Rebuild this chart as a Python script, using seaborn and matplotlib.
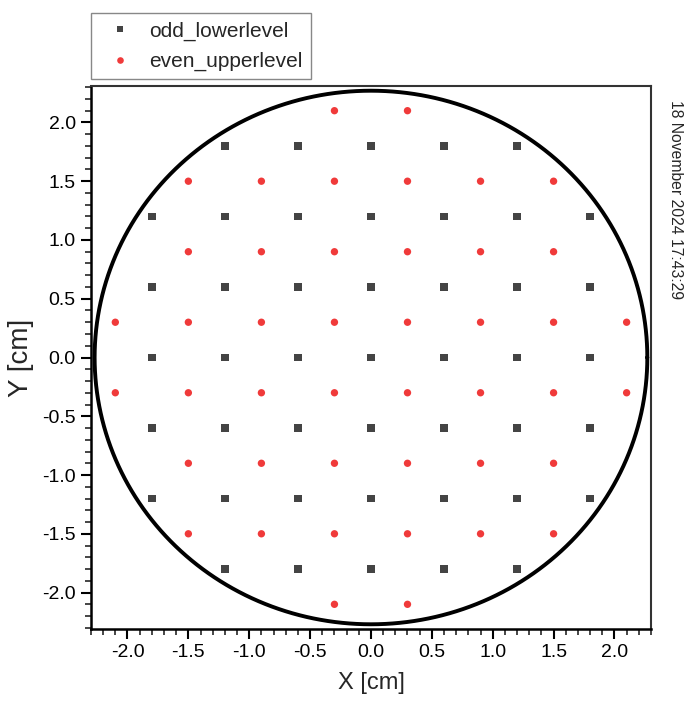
import numpy as np
import pandas as pd
import matplotlib
matplotlib.use("Agg")
import matplotlib.pyplot as plt
import seaborn as sns
from matplotlib.ticker import MultipleLocator

# Data
odd_x = [-1.2, -0.6, 0.0, 0.6, 1.2,
         -1.8, -1.2, -0.6, 0.0, 0.6, 1.2, 1.8,
         -1.8, -1.2, -0.6, 0.0, 0.6, 1.2, 1.8,
         -1.8, -1.2, -0.6, 0.0, 0.6, 1.2, 1.8,
         -1.8, -1.2, -0.6, 0.0, 0.6, 1.2, 1.8,
         -1.8, -1.2, -0.6, 0.0, 0.6, 1.2, 1.8,
         -1.2, -0.6, 0.0, 0.6, 1.2]
odd_y = [1.8] * 5 + [1.2] * 7 + [0.6] * 7 + [0.0] * 7 + [-0.6] * 7 + [-1.2] * 7 + [-1.8] * 5

even_x = [-0.3, 0.3,
          -1.5, -0.9, -0.3, 0.3, 0.9, 1.5,
          -1.5, -0.9, -0.3, 0.3, 0.9, 1.5,
          -2.1, -1.5, -0.9, -0.3, 0.3, 0.9, 1.5, 2.1,
          -2.1, -1.5, -0.9, -0.3, 0.3, 0.9, 1.5, 2.1,
          -1.5, -0.9, -0.3, 0.3, 0.9, 1.5,
          -1.5, -0.9, -0.3, 0.3, 0.9, 1.5,
          -0.3, 0.3]
even_y = [2.1] * 2 + [1.5] * 6 + [0.9] * 6 + [0.3] * 8 + [-0.3] * 8 + [-0.9] * 6 + [-1.5] * 6 + [-2.1] * 2

circle_radius = 2.27
series_names = ["odd_lowerlevel", "even_upperlevel"]
timestamp = "18 November 2024 17:43:29"

df = pd.DataFrame({
    "x": odd_x + even_x,
    "y": odd_y + even_y,
    "series": [series_names[0]] * len(odd_x) + [series_names[1]] * len(even_x),
})

sns.set_style("white")
plt.rcParams["font.family"] = ["Liberation Sans", "DejaVu Sans"]

fig = plt.figure(figsize=(6.96, 7.15), dpi=100)
ax = fig.add_axes([0.1307, 0.1203, 0.8046, 0.7594])

theta = np.linspace(0, 2 * np.pi, 721)
ax.plot(circle_radius * np.cos(theta), circle_radius * np.sin(theta),
        color="black", lw=2.8, zorder=1)

sns.scatterplot(data=df, x="x", y="y", hue="series", style="series",
                markers={series_names[0]: "s", series_names[1]: "o"},
                palette={series_names[0]: "#444444", series_names[1]: "#f03a3a"},
                s=28, linewidth=0, ax=ax, zorder=3)

ax.set_xlim(-2.3, 2.3)
ax.set_ylim(-2.31, 2.31)
ax.xaxis.set_major_locator(MultipleLocator(0.5))
ax.xaxis.set_minor_locator(MultipleLocator(0.1))
ax.yaxis.set_major_locator(MultipleLocator(0.5))
ax.yaxis.set_minor_locator(MultipleLocator(0.1))
ax.xaxis.set_major_formatter(matplotlib.ticker.FormatStrFormatter("%.1f"))
ax.yaxis.set_major_formatter(matplotlib.ticker.FormatStrFormatter("%.1f"))
ax.tick_params(axis="both", which="major", direction="out", length=7, width=1.5,
               labelsize=14, colors="black", bottom=True, left=True, top=False, right=False, pad=4)
ax.tick_params(axis="both", which="minor", direction="out", length=4, width=1.2,
               bottom=True, left=True, top=False, right=False)
for side in ["left", "bottom"]:
    ax.spines[side].set_linewidth(1.8)
    ax.spines[side].set_color("black")
for side in ["top", "right"]:
    ax.spines[side].set_linewidth(1.5)
    ax.spines[side].set_color("#333333")

ax.set_xlabel("X [cm]", fontsize=17, labelpad=8)
ax.set_ylabel("Y [cm]", fontsize=20, labelpad=6)

handles, labels = ax.get_legend_handles_labels()
leg = ax.legend(handles, labels, loc="lower left", bbox_to_anchor=(0.0, 1.012),
                borderaxespad=0, fontsize=15, frameon=True, fancybox=False,
                edgecolor="#888888", framealpha=1, handletextpad=0.4,
                borderpad=0.4, labelspacing=0.53, markerscale=0.9)
leg.get_frame().set_linewidth(1.0)

fig.text(0.97, 0.86, timestamp, rotation=-90, fontsize=11.3, ha="center", va="top")

fig.savefig("out.png", dpi=100)
